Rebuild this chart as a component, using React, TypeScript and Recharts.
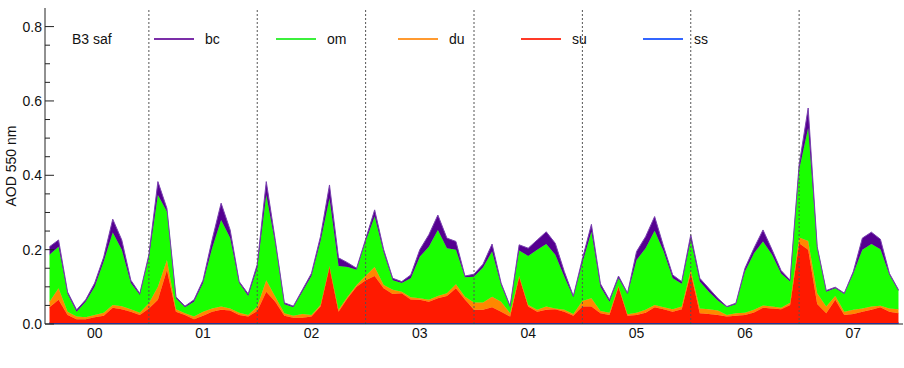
import { AreaChart, Area, XAxis, YAxis, ReferenceLine } from 'recharts';

// monthly AOD 550 nm, Feb 2000 .. Dec 2007 (one row per year)
const ss = [
  0.003, 0.003, 0.003, 0.003, 0.003, 0.003, 0.003, 0.003, 0.003, 0.003, 0.003,
  0.003, 0.003, 0.003, 0.003, 0.003, 0.003, 0.003, 0.003, 0.003, 0.003, 0.003, 0.003,
  0.003, 0.003, 0.003, 0.003, 0.003, 0.003, 0.003, 0.003, 0.003, 0.003, 0.003, 0.003,
  0.003, 0.003, 0.003, 0.003, 0.003, 0.003, 0.003, 0.003, 0.003, 0.003, 0.003, 0.003,
  0.003, 0.003, 0.003, 0.003, 0.003, 0.003, 0.003, 0.003, 0.003, 0.003, 0.003, 0.003,
  0.003, 0.003, 0.003, 0.003, 0.003, 0.003, 0.003, 0.003, 0.003, 0.003, 0.003, 0.003,
  0.003, 0.003, 0.003, 0.003, 0.003, 0.003, 0.003, 0.003, 0.003, 0.003, 0.003, 0.003,
  0.003, 0.003, 0.003, 0.003, 0.003, 0.003, 0.003, 0.003, 0.003, 0.003, 0.003, 0.003,
];
const su = [
  0.042, 0.062, 0.021, 0.010, 0.010, 0.015, 0.019, 0.041, 0.037, 0.030, 0.021,
  0.039, 0.062, 0.142, 0.030, 0.021, 0.010, 0.019, 0.030, 0.035, 0.033, 0.021, 0.017,
  0.032, 0.084, 0.057, 0.019, 0.014, 0.014, 0.017, 0.044, 0.151, 0.030, 0.066, 0.097,
  0.115, 0.126, 0.093, 0.078, 0.080, 0.063, 0.062, 0.057, 0.066, 0.072, 0.093, 0.063,
  0.035, 0.035, 0.042, 0.030, 0.017, 0.124, 0.044, 0.030, 0.035, 0.037, 0.030, 0.019,
  0.044, 0.044, 0.026, 0.021, 0.097, 0.019, 0.021, 0.027, 0.042, 0.037, 0.030, 0.037,
  0.134, 0.026, 0.024, 0.021, 0.017, 0.019, 0.021, 0.028, 0.041, 0.039, 0.037, 0.048,
  0.214, 0.197, 0.051, 0.026, 0.062, 0.021, 0.024, 0.030, 0.035, 0.042, 0.030, 0.026,
];
const du = [
  0.015, 0.031, 0.009, 0.007, 0.005, 0.006, 0.008, 0.007, 0.008, 0.007, 0.006,
  0.014, 0.035, 0.027, 0.007, 0.005, 0.007, 0.011, 0.009, 0.009, 0.006, 0.006, 0.004,
  0.012, 0.031, 0.013, 0.007, 0.005, 0.010, 0.004, 0.004, 0.002, 0.005, 0.004, 0.005,
  0.012, 0.024, 0.009, 0.011, 0.004, 0.006, 0.004, 0.005, 0.006, 0.008, 0.011, 0.007,
  0.020, 0.020, 0.028, 0.027, 0.009, 0.003, 0.004, 0.005, 0.009, 0.002, 0.005, 0.005,
  0.015, 0.022, 0.006, 0.006, 0.002, 0.004, 0.006, 0.008, 0.006, 0.005, 0.007, 0.007,
  0.008, 0.013, 0.013, 0.012, 0.004, 0.007, 0.006, 0.007, 0.006, 0.005, 0.004, 0.006,
  0.016, 0.023, 0.029, 0.018, 0.010, 0.009, 0.011, 0.009, 0.009, 0.004, 0.009, 0.011,
];
const om = [
  0.126, 0.112, 0.048, 0.013, 0.042, 0.076, 0.138, 0.195, 0.152, 0.070, 0.048,
  0.122, 0.247, 0.130, 0.029, 0.016, 0.040, 0.077, 0.162, 0.233, 0.189, 0.080, 0.051,
  0.103, 0.229, 0.142, 0.024, 0.023, 0.060, 0.105, 0.171, 0.182, 0.118, 0.080, 0.041,
  0.092, 0.136, 0.087, 0.026, 0.023, 0.051, 0.112, 0.143, 0.178, 0.121, 0.093, 0.053,
  0.069, 0.094, 0.122, 0.045, 0.016, 0.068, 0.132, 0.162, 0.168, 0.144, 0.089, 0.045,
  0.103, 0.179, 0.065, 0.030, 0.021, 0.055, 0.142, 0.166, 0.200, 0.150, 0.083, 0.061,
  0.081, 0.072, 0.047, 0.027, 0.021, 0.024, 0.111, 0.152, 0.172, 0.139, 0.092, 0.057,
  0.182, 0.304, 0.121, 0.040, 0.021, 0.048, 0.098, 0.158, 0.168, 0.152, 0.090, 0.049,
];
const bc = [
  0.022, 0.018, 0.005, 0.005, 0.005, 0.010, 0.012, 0.036, 0.026, 0.008, 0.004,
  0.008, 0.036, 0.009, 0.004, 0.003, 0.005, 0.008, 0.022, 0.045, 0.022, 0.004, 0.006,
  0.010, 0.036, 0.010, 0.004, 0.003, 0.005, 0.007, 0.013, 0.036, 0.022, 0.012, 0.004,
  0.006, 0.018, 0.008, 0.005, 0.004, 0.009, 0.019, 0.032, 0.040, 0.027, 0.022, 0.003,
  0.007, 0.009, 0.020, 0.005, 0.003, 0.015, 0.021, 0.026, 0.033, 0.031, 0.014, 0.003,
  0.010, 0.020, 0.008, 0.005, 0.006, 0.002, 0.023, 0.031, 0.038, 0.013, 0.009, 0.006,
  0.014, 0.009, 0.009, 0.006, 0.002, 0.003, 0.009, 0.014, 0.031, 0.014, 0.008, 0.004,
  0.013, 0.054, 0.004, 0.003, 0.003, 0.002, 0.005, 0.031, 0.032, 0.027, 0.004, 0.003,
];

const yearLabels = ['00', '01', '02', '03', '04', '05', '06', '07'];
const yearMid = [6, 18, 30, 42, 54, 66, 78, 90];
const yearStart = [12, 24, 36, 48, 60, 72, 84];
const yTicks = [0, 0.05, 0.1, 0.15, 0.2, 0.25, 0.3, 0.35, 0.4, 0.45, 0.5, 0.55, 0.6, 0.65, 0.7, 0.75, 0.8];

// month index 1 = Feb 2000
const data = su.map((_, i) => ({ m: i + 1, ss: ss[i], su: su[i], du: du[i], om: om[i], bc: bc[i] }));

const legend = [
  { name: 'bc', color: '#7b2ea8', x: 154 },
  { name: 'om', color: '#3cf03c', x: 276 },
  { name: 'du', color: '#ff9a30', x: 398 },
  { name: 'su', color: '#ff3a28', x: 521 },
  { name: 'ss', color: '#3366ff', x: 643 },
];

const FONT = '"Liberation Sans", Arial, Helvetica, sans-serif';
const AX = '#222';

const isMajor = (v: number) => Math.abs(v / 0.2 - Math.round(v / 0.2)) < 1e-6;

const LeftTick = (p: any) => {
  const v = p.payload.value;
  const len = isMajor(v) ? 9 : 5;
  return (
    <g>
      <line x1={p.x + 3} y1={p.y} x2={p.x + 3 + len} y2={p.y} stroke={AX} />
      {isMajor(v) && (
        <text x={p.x} y={p.y} dy={5} textAnchor="end" fontSize={14} fill="#111" fontFamily={FONT}>
          {v.toFixed(1)}
        </text>
      )}
    </g>
  );
};

const RightTick = (p: any) => {
  const len = isMajor(p.payload.value) ? 9 : 5;
  return <line x1={p.x} y1={p.y} x2={p.x - len} y2={p.y} stroke={AX} />;
};

const TopTick = (p: any) => <line x1={p.x} y1={p.y} x2={p.x} y2={p.y + 8} stroke={AX} />;

const BottomTick = (p: any) => (
  <text x={p.x} y={p.y} dy={14} textAnchor="middle" fontSize={14} fill="#111" fontFamily={FONT}>
    {yearLabels[yearMid.indexOf(p.payload.value)]}
  </text>
);

export default function App() {
  return (
    <div style={{ position: 'absolute', left: 0, top: 0, width: 904, height: 368, background: '#fff' }}>
      <AreaChart width={904} height={368} data={data} margin={{ top: 8, right: 1, bottom: 14, left: 0 }}>
        <XAxis
          dataKey="m"
          type="number"
          domain={[0.5, 95.5]}
          allowDataOverflow
          ticks={yearMid}
          interval={0}
          height={30}
          tickSize={0}
          tickMargin={0}
          tick={<BottomTick />}
          axisLine={{ stroke: AX }}
        />
        <XAxis
          xAxisId="top"
          orientation="top"
          dataKey="m"
          type="number"
          domain={[0.5, 95.5]}
          allowDataOverflow
          ticks={yearMid}
          interval={0}
          height={0}
          tickSize={0}
          tickMargin={0}
          tick={<TopTick />}
          axisLine={{ stroke: AX }}
        />
        <YAxis
          type="number"
          domain={[0, 0.85]}
          allowDataOverflow
          ticks={yTicks}
          interval={0}
          width={45}
          tickSize={0}
          tickMargin={3}
          tick={<LeftTick />}
          axisLine={{ stroke: AX }}
        />
        <YAxis
          yAxisId="right"
          orientation="right"
          type="number"
          domain={[0, 0.85]}
          allowDataOverflow
          ticks={yTicks}
          interval={0}
          width={0}
          tickSize={0}
          tickMargin={0}
          tick={<RightTick />}
          axisLine={{ stroke: AX }}
        />
        <Area type="linear" dataKey="ss" stackId="a" fill="#2a40ff" fillOpacity={1} stroke="#2a40ff" strokeWidth={2} dot={false} activeDot={false} isAnimationActive={false} />
        <Area type="linear" dataKey="su" stackId="a" fill="#ff1a00" fillOpacity={1} stroke="#ff1a00" strokeWidth={0.6} dot={false} activeDot={false} isAnimationActive={false} />
        <Area type="linear" dataKey="du" stackId="a" fill="#ff8800" fillOpacity={1} stroke="#ff8800" strokeWidth={0.6} dot={false} activeDot={false} isAnimationActive={false} />
        <Area type="linear" dataKey="om" stackId="a" fill="#1aff00" fillOpacity={1} stroke="#1aff00" strokeWidth={0.6} dot={false} activeDot={false} isAnimationActive={false} />
        <Area type="linear" dataKey="bc" stackId="a" fill="#550090" fillOpacity={1} stroke="#7a40b0" strokeWidth={1} dot={false} activeDot={false} isAnimationActive={false} />
        {yearStart.map((m) => (
          <ReferenceLine key={m} x={m} stroke="#555" strokeDasharray="2 2" strokeWidth={1} />
        ))}
      </AreaChart>
      <svg width={904} height={368} style={{ position: 'absolute', left: 0, top: 0, pointerEvents: 'none' }}>
        <text x={16} y={166} transform="rotate(-90 16 166)" textAnchor="middle" fontSize={14} fill="#111" fontFamily={FONT}>
          AOD 550 nm
        </text>
        <text x={72} y={44} fontSize={14} fill="#111" fontFamily={FONT}>B3 saf</text>
        {legend.map((l) => (
          <g key={l.name}>
            <line x1={l.x} y1={39} x2={l.x + 40} y2={39} stroke={l.color} strokeWidth={2} />
            <text x={l.x + 51} y={44} fontSize={14} fill="#111" fontFamily={FONT}>{l.name}</text>
          </g>
        ))}
      </svg>
    </div>
  );
}
